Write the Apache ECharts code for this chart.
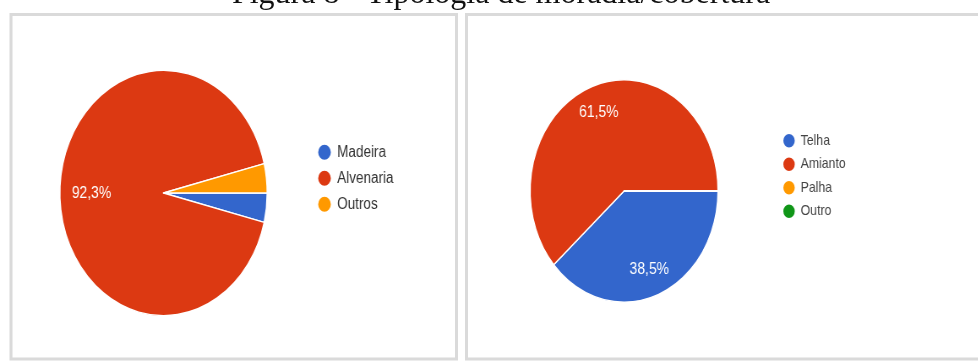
<!DOCTYPE html>
<html>
<head>
<meta charset="utf-8">
<script src="https://cdn.jsdelivr.net/npm/echarts@6/dist/echarts.min.js"></script>
<style>
  html, body { margin: 0; padding: 0; background: #fff; }
  #wrap { position: relative; width: 978px; height: 361px; overflow: hidden; }
  #frame { position: absolute; left: 0; top: 0; width: 978px; height: 361px; }
  /* the pie panels are drawn wide and squeezed horizontally into ovals */
  #pies { position: absolute; left: 0; top: 0; width: 1158px; height: 361px;
          transform: scaleX(0.845); transform-origin: 0 0; }
</style>
</head>
<body>
<div id="wrap"><div id="frame"></div><div id="pies"></div></div>
<script>
const figureTitle = 'Figura 8 - Tipologia de moradia/cobertura';

// Tipo de moradia (paredes)
const wallCategories = ['Madeira', 'Alvenaria', 'Outros'];
const wallCounts = [1, 24, 1];
// Tipo de cobertura
const roofCategories = ['Telha', 'Amianto', 'Palha', 'Outro'];
const roofCounts = [10, 16, 0, 0];

const wallColors = ['#3366cc', '#dc3912', '#ff9900'];
const roofColors = ['#3366cc', '#dc3912', '#ff9900', '#109618'];

const sansFont = '"Liberation Sans", Arial, sans-serif';

function toData(names, values, colors) {
  return names.map((n, i) => ({ name: n, value: values[i], itemStyle: { color: colors[i] } }));
}

// frame: heading and panel borders
const frame = echarts.init(document.getElementById('frame'), null, { renderer: 'canvas' });
frame.setOption({
  animation: false,
  graphic: [
    { type: 'text', x: 501, y: -5,
      style: { text: figureTitle, font: '32px "Liberation Serif", "Times New Roman", serif',
               fill: '#111', align: 'center', verticalAlign: 'middle' } },
    { type: 'rect', shape: { x: 11, y: 14.5, width: 445.5, height: 344.5 },
      style: { fill: 'none', stroke: '#dadada', lineWidth: 3 } },
    { type: 'rect', shape: { x: 466.5, y: 14.5, width: 540, height: 344.5 },
      style: { fill: 'none', stroke: '#dadada', lineWidth: 3 } }
  ]
});

function pctLabel(p) {
  return p.percent >= 5 ? p.percent.toFixed(1).replace('.', ',') + '%' : '';
}

function pieSeries(names, values, colors, center, r, labelInner) {
  const data = toData(names, values, colors);
  return [
    {
      type: 'pie', center: center, radius: r, startAngle: 0, clockwise: true,
      percentPrecision: 1, silent: true,
      data: data,
      itemStyle: { borderColor: '#ffffff', borderWidth: 1.5 },
      label: { show: false }, labelLine: { show: false },
      emphasis: { disabled: true }
    },
    {
      // label ring: transparent, places the percentages at the right depth
      type: 'pie', center: center, radius: [r * labelInner, r], startAngle: 0, clockwise: true,
      percentPrecision: 1, silent: true, z: 5,
      data: data.map(d => ({ name: d.name, value: d.value })),
      itemStyle: { color: 'transparent', borderWidth: 0 },
      label: { show: true, position: 'inside', formatter: pctLabel, color: '#ffffff',
               fontSize: 16.5, fontFamily: sansFont, rotate: 0 },
      labelLine: { show: false },
      emphasis: { disabled: true }
    }
  ];
}

const pies = echarts.init(document.getElementById('pies'), null, { renderer: 'canvas' });
pies.setOption({
  animation: false,
  legend: [
    {
      data: wallCategories, orient: 'vertical', left: 369.5, top: 137.7,
      icon: 'circle', itemWidth: 20, itemHeight: 17, itemGap: 7, selectedMode: false,
      textStyle: { fontSize: 16, lineHeight: 18, color: '#333', fontFamily: sansFont, padding: 0 }
    },
    {
      data: roofCategories, orient: 'vertical', left: 920, top: 127,
      icon: 'circle', itemWidth: 17.6, itemHeight: 15.5, itemGap: 6, selectedMode: false,
      textStyle: { fontSize: 14.5, lineHeight: 16, color: '#444', fontFamily: sansFont, padding: 0 }
    }
  ],
  series: [
    ...pieSeries(wallCategories, wallCounts, wallColors, [193.5, 193], 122.7, 0.34),
    ...pieSeries(roofCategories, roofCounts, roofColors, [738.5, 191], 111.2, 0.46)
  ]
});
</script>
</body>
</html>
